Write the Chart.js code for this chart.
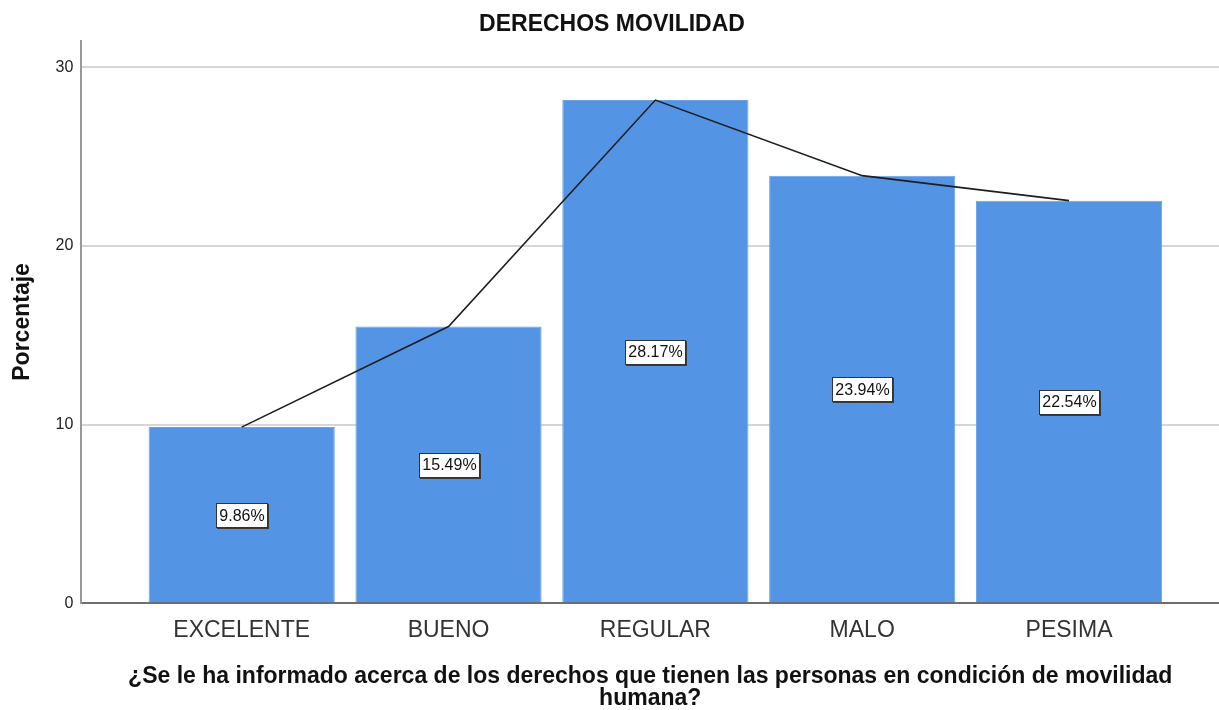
<!DOCTYPE html>
<html>
<head>
<meta charset="utf-8">
<script src="https://cdn.jsdelivr.net/npm/chart.js@4/dist/chart.umd.min.js"></script>
<style>
  html, body { margin: 0; padding: 0; background: #ffffff; }
  #wrap { width: 1219px; height: 710px; }
</style>
</head>
<body>
<div id="wrap"><canvas id="movChart"></canvas></div>
<script>
// categorías y porcentajes
const categories = ['EXCELENTE', 'BUENO', 'REGULAR', 'MALO', 'PESIMA'];
const percentages = [9.86, 15.49, 28.17, 23.94, 22.54];
const yTicks = [0, 10, 20, 30];

Chart.defaults.font.family = "'Liberation Sans', Arial, sans-serif";
Chart.defaults.color = '#222222';

// etiquetas con recuadro blanco en el centro de cada barra
const boxLabels = {
    id: 'boxLabels',
    afterDatasetsDraw(chart) {
        const ctx = chart.ctx;
        const yScale = chart.scales.y;
        const bars = chart.getDatasetMeta(0).data;
        ctx.save();
        ctx.font = "16px 'Liberation Sans', Arial, sans-serif";
        ctx.textAlign = 'center';
        ctx.textBaseline = 'middle';
        bars.forEach((bar, i) => {
            const v = percentages[i];
            const text = v.toFixed(2) + '%';
            const cy = yScale.getPixelForValue(v / 2);
            const w = Math.round(ctx.measureText(text).width + 6);
            const h = 24;
            const x0 = Math.round(bar.x - w / 2);
            const y0 = Math.round(cy - h / 2);
            ctx.fillStyle = '#3a3a3a';
            ctx.fillRect(x0 + 1, y0 + 1, w + 1, h + 1);
            ctx.fillStyle = '#ffffff';
            ctx.fillRect(x0, y0, w, h);
            ctx.strokeStyle = '#333333';
            ctx.lineWidth = 1;
            ctx.strokeRect(x0 + 0.5, y0 + 0.5, w, h);
            ctx.fillStyle = '#111111';
            ctx.fillText(text, x0 + w / 2 + 0.5, cy + 1);
        });
        ctx.restore();
    }
};

const points = categories.map((c, i) => ({ x: i, y: percentages[i] }));

new Chart(document.getElementById('movChart'), {
    type: 'bar',
    data: {
        datasets: [
            {
                type: 'bar',
                data: points,
                backgroundColor: '#5494e4',
                borderColor: '#6aa2e8',
                borderWidth: 1,
                barPercentage: 0.9,
                categoryPercentage: 1.0,
                order: 2
            },
            {
                type: 'line',
                data: points,
                borderColor: '#1e1e1e',
                borderWidth: 1.6,
                pointRadius: 0,
                tension: 0,
                fill: false,
                order: 1
            }
        ]
    },
    options: {
        responsive: true,
        maintainAspectRatio: false,
        animation: false,
        layout: { padding: { left: 5, right: 0, top: 0, bottom: 0 } },
        plugins: {
            legend: { display: false },
            tooltip: { enabled: false },
            title: {
                display: true,
                text: 'DERECHOS MOVILIDAD',
                color: '#111111',
                font: { size: 23, weight: 'bold', lineHeight: 1.2 },
                padding: { top: 11, bottom: 2 }
            }
        },
        scales: {
            x: {
                type: 'linear',
                offset: false,
                min: -0.775,
                max: 4.725,
                afterBuildTicks: (axis) => {
                    axis.ticks = categories.map((c, i) => ({ value: i }));
                },
                ticks: {
                    autoSkip: false,
                    maxRotation: 0,
                    padding: 6,
                    color: '#333333',
                    font: { size: 23 },
                    callback: (value) => categories[value]
                },
                grid: { display: false },
                border: { display: true, color: '#6e6e6e', width: 2 },
                title: {
                    display: true,
                    text: ['¿Se le ha informado acerca de los derechos que tienen las personas en condición de movilidad', 'humana?'],
                    color: '#111111',
                    font: { size: 23, weight: 'bold', lineHeight: 0.96 },
                    padding: { top: 15, bottom: 0 }
                }
            },
            y: {
                min: 0,
                max: 31.5,
                afterBuildTicks: (axis) => {
                    axis.ticks = yTicks.map(v => ({ value: v }));
                },
                ticks: {
                    padding: 8,
                    color: '#222222',
                    font: { size: 16 }
                },
                grid: {
                    color: '#d6d6d6',
                    lineWidth: 2,
                    drawTicks: false
                },
                border: { display: true, color: '#9a9a9a', width: 2 },
                title: {
                    display: true,
                    text: 'Porcentaje',
                    color: '#111111',
                    font: { size: 23, weight: 'bold', lineHeight: 1.2 },
                    padding: { top: 4, bottom: 11 }
                }
            }
        }
    },
    plugins: [boxLabels]
});
</script>
</body>
</html>
